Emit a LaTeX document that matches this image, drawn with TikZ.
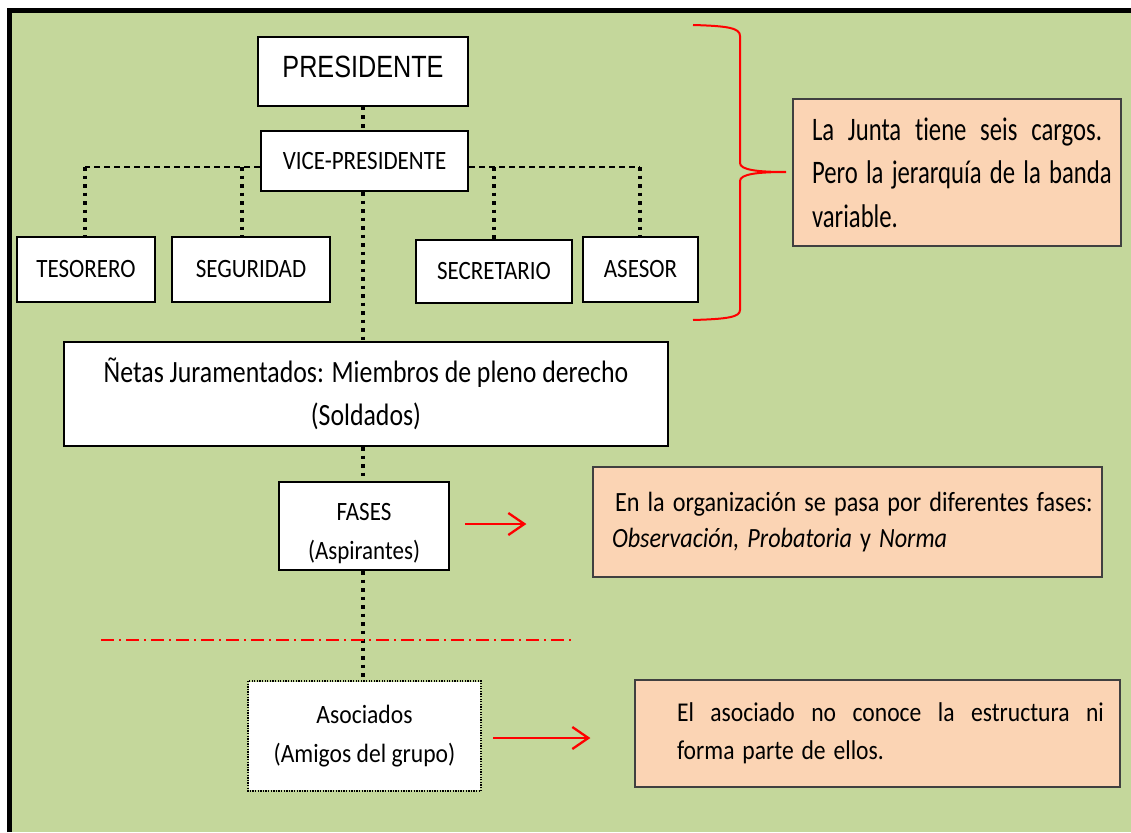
\documentclass[tikz,border=0pt]{standalone}
\usepackage{fontspec}
\usepackage{graphicx}
\setmainfont{Carlito}[Ligatures={NoCommon}]
\newfontfamily\arialf{Liberation Sans}
\usetikzlibrary{arrows.meta}
\definecolor{bggreen}{RGB}{196,215,155}
\definecolor{peach}{RGB}{251,212,180}
\def\vfac{1.15}
\newcommand\vt[1]{\scalebox{1}[\vfac]{#1}}
\begin{document}
\begin{tikzpicture}[x=1pt,y=-1pt,
  wbox/.style={draw=black, line width=2pt, fill=white, inner sep=0pt, align=center, font=\fontsize{23}{39}\selectfont\def\vfac{1.15}},
  nbox/.style={draw=black!75, line width=1.3pt, fill=peach, inner sep=0pt},
  dotv/.style={line width=3.5pt, dash pattern=on 3.5pt off 5pt},
  dashh/.style={line width=2pt, dash pattern=on 6pt off 4pt},
  redarr/.style={red, line width=2.3pt, -{Straight Barb[length=16pt,width=22pt]}},
  brace/.style={red, line width=2pt},
  cutline/.style={red, line width=2pt, dash pattern=on 13pt off 5pt on 2pt off 5pt},
]
\useasboundingbox (0,0) rectangle (1131,832);
\fill[white] (0,0) rectangle (1131,832);
\fill[bggreen] (9.5,10.5) rectangle (1131,832);
\draw[line width=5pt] (9.5,832) -- (9.5,10.5) -- (1131,10.5);

% hierarchy boxes
\node[wbox, font=\arialf\fontsize{25.2}{36}\selectfont\def\vfac{1.22}, minimum width=210pt, minimum height=69pt] (pres) at (363,71.5) {\vt{PRESIDENTE}\rule[-9pt]{0pt}{9pt}};
\node[wbox, minimum width=207pt, minimum height=60pt] (vice) at (364.5,161) {\vt{VICE-PRESIDENTE}};
\node[wbox, minimum width=138pt, minimum height=65pt] (teso) at (86,269.5) {\vt{TESORERO}};
\node[wbox, minimum width=158pt, minimum height=65pt] (segu) at (251,269.5) {\vt{SEGURIDAD}};
\node[wbox, minimum width=156pt, minimum height=63pt] (secr) at (494,271.5) {\vt{SECRETARIO}};
\node[wbox, minimum width=115pt, minimum height=65pt] (ases) at (640.5,269.5) {\vt{ASESOR}};
\node[wbox, font=\fontsize{25.8}{43}\selectfont\def\vfac{1.2}, minimum width=604pt, minimum height=104pt] (netas) at (366,394) {\vt{Ñetas Juramentados: Miembros de pleno derecho}\\\vt{(Soldados)}};
\node[wbox, minimum width=170pt, minimum height=88pt] (fases) at (364,526) {\rule{0pt}{32pt}\vt{FASES}\\\vt{(Aspirantes)}};
\node[wbox, draw=none, font=\fontsize{23.6}{39}\selectfont\def\vfac{1.12}, minimum width=231pt, minimum height=108pt] (asoc) at (364.5,736) {\vt{Asociados}\\\vt{(Amigos del grupo)}};
\draw[line width=1.3pt, dash pattern=on 1.3pt off 1.3pt] (asoc.north west) rectangle (asoc.south east);

% notes
\node[nbox, minimum width=328pt, minimum height=147pt, text width=290pt, align=left, font=\fontsize{24.7}{43.5}\selectfont\def\vfac{1.33}] (junta) at (957,172.5)
  {\vt{\hbox to 290pt{La \hfill Junta \hfill tiene \hfill seis \hfill cargos.}}\\\vt{\hbox to 290pt{Pero la jerarquía de la banda}}\\\vt{variable.}};
\node[nbox, minimum width=509pt, minimum height=110pt, text width=505pt, align=left, font=\fontsize{24.2}{36}\selectfont] (fnote) at (847.5,522)
  {\hspace*{20pt}\vt{En la organización se pasa por diferentes fases:}\\\hspace*{17pt}\vt{\textit{Observación, Probatoria} y \textit{Norma}}};
\node[nbox, minimum width=485pt, minimum height=107pt] (anote) at (877.5,733.5) {};
\node[text width=427pt, align=left, inner sep=0pt, font=\fontsize{23.6}{38}\selectfont] (anotetext) at ([xshift=13pt]anote.center)
  {\vt{\hbox to 427pt{El \hfill asociado \hfill no \hfill conoce \hfill la \hfill estructura \hfill ni}}\\\vt{forma parte de ellos.}};

% connectors
\coordinate (hl) at (85,167);
\coordinate (sl) at (242,167);
\coordinate (sr) at (494,167);
\coordinate (hr) at (640,167);
\draw[dotv] (pres.south) -- (pres.south |- vice.north);
\draw[dotv] (pres.south |- vice.south) -- (pres.south |- netas.north);
\draw[dashh] (vice.west |- hl) -- (hl);
\draw[dashh] (vice.east |- hr) -- (hr);
\draw[dotv] (hl) -- (hl |- teso.north);
\draw[dotv] (sl) -- (sl |- segu.north);
\draw[dotv] (sr) -- (sr |- secr.north);
\draw[dotv] (hr) -- (hr |- ases.north);
\draw[dotv] (pres.south |- netas.south) -- (pres.south |- fases.north);
\draw[dotv] (pres.south |- fases.south) -- (pres.south |- asoc.north);

% cut line
\coordinate (cut1) at (101,640);
\coordinate (cut2) at (573,640);
\draw[cutline] (cut1) -- (cut2);

% arrows
\draw[redarr, shorten <=15pt, shorten >=66pt] ([yshift=2pt]fases.east) -- ([yshift=2pt]fases.east -| fnote.west);
\draw[redarr, shorten <=12pt, shorten >=44pt] ([yshift=-2pt]asoc.east) -- ([yshift=-2pt]asoc.east -| anote.west);

% brace
\draw[brace] (693,25) .. controls (728,26) and (740,28) .. (740,36) -- (740,163)
  .. controls (740,170) and (758,172) .. (786,172)
  .. controls (758,172) and (740,174) .. (740,181) -- (740,310)
  .. controls (740,317) and (728,319) .. (693,320);
\end{tikzpicture}
\end{document}
